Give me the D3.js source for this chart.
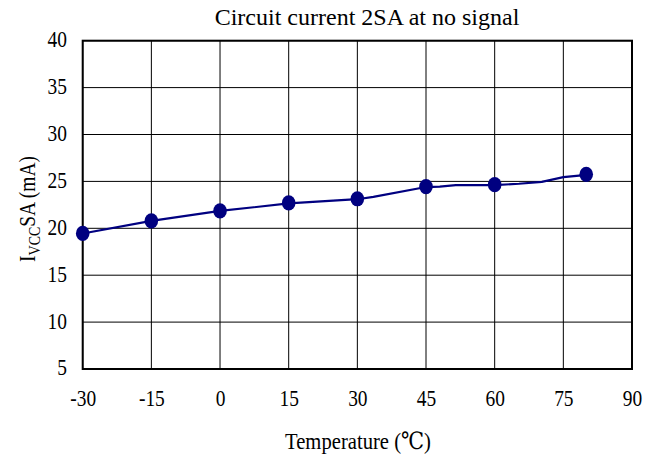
<!DOCTYPE html>
<html>
<head>
<meta charset="utf-8">
<script src="https://cdn.jsdelivr.net/npm/d3@7"></script>
<style>
  html, body { margin: 0; padding: 0; background: #fff; }
  svg text { font-family: "Liberation Serif", "DejaVu Serif", serif; fill: #000; }
</style>
</head>
<body>
<svg id="chart" width="654" height="459"></svg>
<script>
// Measured circuit current (markers) at each test temperature
const markerTemps = [-30, -15, 0, 15, 30, 45, 60, 80];
const markerCurrents = [19.45, 20.8, 21.85, 22.7, 23.15, 24.45, 24.65, 25.75];

// Continuous trace of the current versus temperature
const traceTemps = [-30, -15, 0, 15, 30, 33.5, 45, 48, 51.5, 60, 65.3, 70.3, 75, 79];
const traceCurrents = [19.45, 20.8, 21.85, 22.65, 23.1, 23.35, 24.4, 24.45, 24.6, 24.6, 24.75, 24.95, 25.45, 25.65];

// Axis ticks
const xTicks = [-30, -15, 0, 15, 30, 45, 60, 75, 90];
const yTicks = [5, 10, 15, 20, 25, 30, 35, 40];

const svg = d3.select("#chart");
const margin = { left: 82.7, top: 40.7, right: 632, bottom: 369 };

const x = d3.scaleLinear().domain([-30, 90]).range([margin.left, margin.right]);
const y = d3.scaleLinear().domain([5, 40]).range([margin.bottom, margin.top]);

// Narrow serif look used for the numbers and axis titles
const labelSize = 23.7;
const squeeze = 0.82;

// Grid lines
const grid = svg.append("g");
grid.selectAll("line.v").data(xTicks).join("line")
  .attr("x1", d => x(d)).attr("x2", d => x(d))
  .attr("y1", margin.top).attr("y2", margin.bottom)
  .attr("stroke", "#000").attr("stroke-width", 1);
grid.selectAll("line.h").data(yTicks).join("line")
  .attr("y1", d => y(d)).attr("y2", d => y(d))
  .attr("x1", margin.left).attr("x2", margin.right)
  .attr("stroke", "#000").attr("stroke-width", 1);

// Plot frame
svg.append("rect")
  .attr("x", margin.left).attr("y", margin.top)
  .attr("width", margin.right - margin.left).attr("height", margin.bottom - margin.top)
  .attr("fill", "none").attr("stroke", "#000").attr("stroke-width", 2);

// Axes (labels only; lines come from the grid and frame)
const xAxis = svg.append("g")
  .attr("transform", `translate(0,${margin.bottom})`)
  .call(d3.axisBottom(x).tickValues(xTicks).tickSize(0).tickPadding(20).tickFormat(d => String(d)));
xAxis.select(".domain").remove();
xAxis.selectAll("text")
  .style("font-size", labelSize + "px").style("font-family", "Liberation Serif")
  .attr("transform", `scale(${squeeze},1)`);

const yAxis = svg.append("g")
  .attr("transform", `translate(${margin.left},0)`)
  .call(d3.axisLeft(y).tickValues(yTicks).tickSize(0).tickFormat(d => String(d)));
yAxis.select(".domain").remove();
yAxis.selectAll("text")
  .style("font-size", labelSize + "px").style("font-family", "Liberation Serif")
  .attr("x", -15.7 / squeeze).attr("dy", "0.25em")
  .attr("transform", `scale(${squeeze},1)`);

// Trace line
const line = d3.line().x(d => x(d[0])).y(d => y(d[1]));
svg.append("path")
  .datum(traceTemps.map((t, i) => [t, traceCurrents[i]]))
  .attr("d", line)
  .attr("fill", "none")
  .attr("stroke", "#000080")
  .attr("stroke-width", 2.2);

// Markers
svg.append("g").selectAll("ellipse")
  .data(markerTemps.map((t, i) => [t, markerCurrents[i]]))
  .join("ellipse")
  .attr("cx", d => x(d[0])).attr("cy", d => y(d[1]))
  .attr("rx", 6.8).attr("ry", 7.6)
  .attr("fill", "#000080");

// Title
svg.append("text")
  .attr("x", 367).attr("y", 25)
  .attr("text-anchor", "middle")
  .style("font-size", "24px")
  .text("Circuit current 2SA at no signal");

// X axis title
svg.append("text")
  .attr("transform", "translate(358,449) scale(0.86,1)")
  .attr("text-anchor", "middle")
  .style("font-size", "24px")
  .text("Temperature (℃)");

// Y axis title with subscript
const yTitle = svg.append("text")
  .attr("transform", `translate(35,209) rotate(-90) scale(${squeeze},1)`)
  .attr("text-anchor", "middle")
  .style("font-size", labelSize + "px");
yTitle.append("tspan").text("I");
yTitle.append("tspan").attr("dy", 5).style("font-size", "17px").text("VCC");
yTitle.append("tspan").attr("dy", -5).text("SA (mA)");
</script>
</body>
</html>
